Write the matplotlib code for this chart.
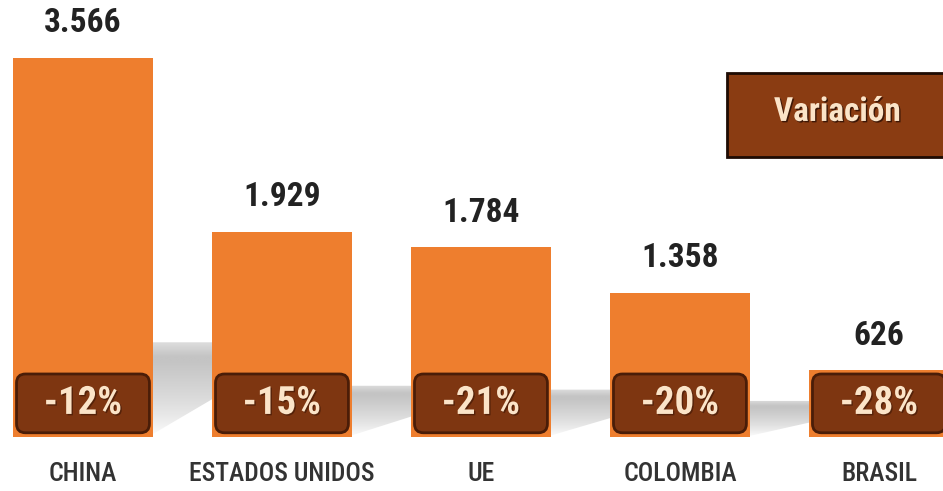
import matplotlib
matplotlib.use("Agg")
import matplotlib.pyplot as plt
import numpy as np
from matplotlib import font_manager
from matplotlib.patches import FancyBboxPatch, Rectangle, Polygon
from matplotlib.colors import LinearSegmentedColormap
import matplotlib.patheffects as pe

# ---- data ----
countries = ["CHINA", "ESTADOS UNIDOS", "UE", "COLOMBIA", "BRASIL"]
volumes = [3566, 1929, 1784, 1358, 626]
volume_labels = ["3.566", "1.929", "1.784", "1.358", "626"]
variation = [-12, -15, -21, -20, -28]
legend_title = "Variación"

# ---- fonts ----
available = {f.name for f in font_manager.fontManager.ttflist}
def pick(*names):
    for n in names:
        if n in available:
            return n
    return "DejaVu Sans"
narrow = pick("Liberation Sans Narrow", "Roboto Condensed", "Open Sans Condensed", "Roboto", "Liberation Sans")

# ---- colours ----
bar_color = "#EE7E2E"
badge_color = "#7E3611"
badge_edge = "#4A1D08"
cream = "#FBE4C8"
text_dark = "#222222"
label_grey = "#333333"

fig = plt.figure(figsize=(9.43, 4.91), dpi=100)
ax = fig.add_axes([0, 0, 1, 1])
ax.set_xlim(-0.417, 4.322)
ax.set_ylim(-508, 4112)
ax.axis("off")

x = np.arange(len(countries))
width = 0.70

# unit-per-pixel ratio so rounded corners stay circular
px_x = (4.322 + 0.417) / 943
px_y = (4112 + 508) / 491
aspect = px_y / px_x

# soft grey shadows cast to the right of each bar
shadow_cmap = LinearSegmentedColormap.from_list("sh", ["#FFFFFF", "#E0E0E0", "#C4C4C4"])
t = np.linspace(0, 1, 200)
profile = np.clip(t / 0.8, 0, 1) ** 0.8 * np.where(t > 0.85, 1 - (t - 0.85) / 0.15 * 0.45, 1)
grad = profile.reshape(-1, 1)
for xi, v in zip(x, volumes):
    x0 = xi + width / 2
    x1 = xi + 1 - width / 2
    top = v * 0.25
    poly = Polygon([(x0, top), (x1, top), (x1, top * 0.40), (x0, top * 0.03)],
                   closed=True, facecolor="none", edgecolor="none")
    ax.add_patch(poly)
    im = ax.imshow(grad, cmap=shadow_cmap, vmin=0, vmax=1, aspect="auto",
                   extent=(x0, x1, 0, top), origin="lower",
                   zorder=1, interpolation="bilinear")
    im.set_clip_path(poly)

bars = ax.bar(x, volumes, width=width, color=bar_color, zorder=2, linewidth=0)

# value labels above the bars
for xi, v, lab in zip(x, volumes, volume_labels):
    ax.annotate(lab, (xi, v), xytext=(0, 25), textcoords="offset points",
                ha="center", va="center", fontsize=24, fontweight="bold",
                color=text_dark, family=[narrow, "DejaVu Sans"], zorder=5)

# variation badges at the foot of each bar
badge_w = 0.668
for xi, var in zip(x, variation):
    badge = FancyBboxPatch((xi - badge_w / 2, 40), badge_w, 553,
                           boxstyle="round,pad=0,rounding_size=0.045",
                           mutation_aspect=aspect,
                           facecolor=badge_color, edgecolor=badge_edge,
                           linewidth=2, zorder=3)
    ax.add_patch(badge)
    ax.text(xi, 316, f"{var}%", ha="center", va="center", fontsize=28,
            fontweight="bold", color=cream, family=[narrow, "DejaVu Sans"],
            zorder=4,
            path_effects=[pe.withSimplePatchShadow(offset=(1, -1),
                                                    shadow_rgbFace="#3a1505",
                                                    alpha=0.6)])

# country names
for xi, name in zip(x, countries):
    ax.text(xi, 0.035, name, transform=ax.get_xaxis_transform(),
            ha="center", va="center", fontsize=18.5, fontweight="medium",
            color=label_grey, family=[narrow, "DejaVu Sans"])

# legend box
ax.add_patch(Rectangle((0.771, 0.680), 0.3, 0.171, transform=ax.transAxes,
                       facecolor="#8A3C12", edgecolor="#1E0B03",
                       linewidth=2, zorder=4, clip_on=False))
ax.text(0.888, 0.772, legend_title, transform=ax.transAxes, ha="center",
        va="center", fontsize=24, fontweight="bold", color=cream,
        family=[narrow, "DejaVu Sans"], zorder=5,
        path_effects=[pe.withSimplePatchShadow(offset=(1, -1),
                                                shadow_rgbFace="#2a0e03",
                                                alpha=0.8)])

fig.savefig("out.png", dpi=100, facecolor="white")
